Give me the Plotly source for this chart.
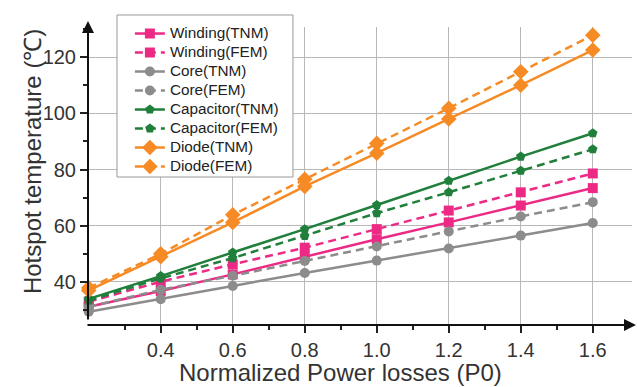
import plotly.graph_objects as go

x_vals = [0.2, 0.4, 0.6, 0.8, 1.0, 1.2, 1.4, 1.6]

winding_tnm = [31.2, 36.8, 42.7, 49.0, 55.2, 61.2, 67.2, 73.4]
winding_fem = [33.0, 40.1, 46.3, 52.2, 58.8, 65.4, 71.9, 78.6]
core_tnm = [29.4, 33.9, 38.6, 43.2, 47.6, 51.9, 56.5, 61.0]
core_fem = [31.2, 37.2, 42.2, 47.5, 52.6, 58.0, 63.3, 68.4]
cap_tnm = [34.0, 42.1, 50.5, 58.8, 67.4, 76.0, 84.6, 92.9]
cap_fem = [33.4, 41.3, 48.5, 56.4, 64.5, 71.9, 79.6, 87.2]
diode_tnm = [37.0, 49.0, 61.2, 74.0, 85.8, 98.0, 110.0, 122.5]
diode_fem = [37.9, 50.0, 63.9, 76.5, 89.3, 101.8, 114.8, 127.8]

x_ticks = [0.4, 0.6, 0.8, 1.0, 1.2, 1.4, 1.6]
y_ticks = [40, 60, 80, 100, 120]

PINK = "#EC2A86"
GRAY = "#8C8C8C"
GREEN = "#1F7F3B"
ORANGE = "#F68B26"

series = [
    ("Winding(TNM)", winding_tnm, PINK, "solid", "square"),
    ("Winding(FEM)", winding_fem, PINK, "8px,5px", "square"),
    ("Core(TNM)", core_tnm, GRAY, "solid", "circle"),
    ("Core(FEM)", core_fem, GRAY, "8px,5px", "circle"),
    ("Capacitor(TNM)", cap_tnm, GREEN, "solid", "pentagon"),
    ("Capacitor(FEM)", cap_fem, GREEN, "8px,5px", "pentagon"),
    ("Diode(TNM)", diode_tnm, ORANGE, "solid", "diamond"),
    ("Diode(FEM)", diode_fem, ORANGE, "8px,5px", "diamond"),
]

fig = go.Figure()
for name, ys, col, dash, sym in series:
    fig.add_trace(go.Scatter(
        x=x_vals, y=ys, mode="lines+markers",
        name=f'<span style="font-size:15.3px">{name}</span>',
        line=dict(color=col, width=2.5, dash=dash),
        marker=dict(symbol=sym, size=10 if sym != "diamond" else 12, color=col),
        cliponaxis=False,
    ))

FONT = "Liberation Sans, Arial, sans-serif"

# legend frame (drawn as a shape so its padding matches the reference)
fig.add_shape(type="rect", xref="paper", yref="paper",
              x0=0.0533, x1=0.3768, y0=0.4966, y1=1.0403,
              fillcolor="white", line=dict(color="#999", width=1), layer="above")

fig.update_layout(
    width=637, height=387,
    margin=dict(l=88, r=5, t=27, b=62),
    paper_bgcolor="white", plot_bgcolor="white",
    font=dict(family=FONT, color="#222"),
    showlegend=True,
    legend=dict(
        x=0.077, y=1.0268, xanchor="left", yanchor="top",
        bgcolor="rgba(0,0,0,0)", borderwidth=0,
        font=dict(size=12, family=FONT, color="#222"),
        tracegroupgap=0, itemwidth=30,
    ),
    xaxis=dict(
        range=[0.198, 1.709], tickvals=x_ticks,
        ticktext=[f"{v:.1f}" for v in x_ticks],
        showgrid=True, gridcolor="#B8B8B8", gridwidth=1,
        showline=False, zeroline=False,
        ticks="outside", ticklen=7, tickwidth=1.5, tickcolor="#222",
        minor=dict(tickvals=[0.3, 0.5, 0.7, 0.9, 1.1, 1.3, 1.5], ticks="outside",
                   ticklen=4, tickwidth=1.5, tickcolor="#222", showgrid=False),
        tickfont=dict(size=20, color="#333"),
    ),
    yaxis=dict(
        range=[24.7, 130.7], tickvals=y_ticks,
        showgrid=True, gridcolor="#B8B8B8", gridwidth=1,
        showline=False, zeroline=False,
        ticks="outside", ticklen=7, tickwidth=1.5, tickcolor="#222",
        minor=dict(tickvals=[30, 50, 70, 90, 110, 130], ticks="outside",
                   ticklen=4, tickwidth=1.5, tickcolor="#222", showgrid=False),
        tickfont=dict(size=20, color="#333"),
    ),
)

# axis lines with arrows
fig.add_annotation(xref="paper", yref="paper", x=0, y=1 + 6 / 298,
                   ax=0, ay=300, axref="pixel", ayref="pixel",
                   showarrow=True, arrowhead=2, arrowsize=1.2, arrowwidth=2,
                   arrowcolor="#111", text="")
fig.add_annotation(xref="paper", yref="paper", x=1 + 4 / 544, y=0,
                   ax=-550, ay=0, axref="pixel", ayref="pixel",
                   showarrow=True, arrowhead=2, arrowsize=1.2, arrowwidth=2,
                   arrowcolor="#111", text="")

# axis titles
fig.add_annotation(xref="paper", yref="paper", x=0.465, y=-0.158,
                   xanchor="center", yanchor="middle", showarrow=False,
                   text="Normalized Power losses (P0)",
                   font=dict(size=24, family=FONT, color="#333"))
fig.add_annotation(xref="paper", yref="paper", x=-0.103, y=0.55,
                   xanchor="center", yanchor="middle", showarrow=False,
                   textangle=-90, text="Hotspot temperature (℃)",
                   font=dict(size=24, family=FONT, color="#333"))

fig.write_html("out.html")
